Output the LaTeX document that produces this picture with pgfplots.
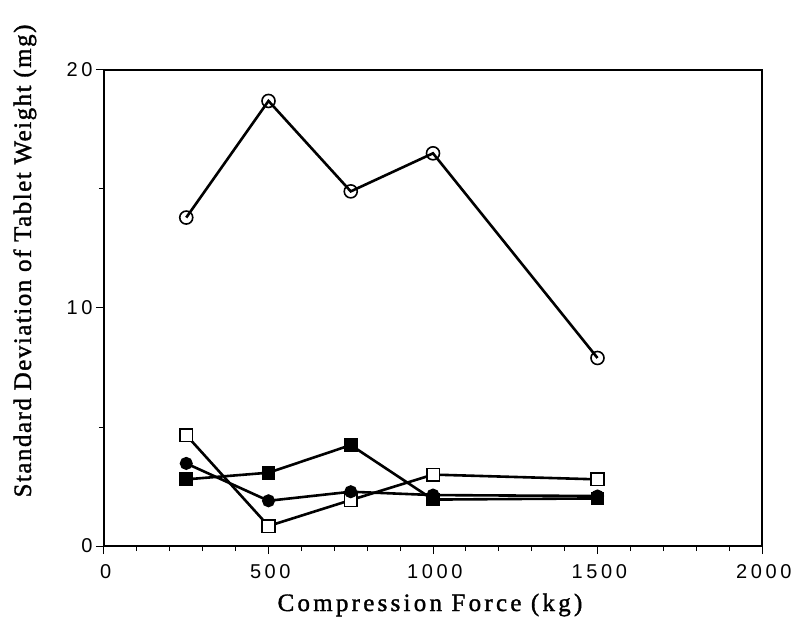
\documentclass[border=0pt]{standalone}
\usepackage{fontspec}
\setmainfont{Liberation Serif}
\newfontfamily\tickfont{Liberation Sans}[LetterSpace=18]
\newfontfamily\xlabfont{Liberation Serif}[LetterSpace=13, FakeBold=1.4]
\newfontfamily\ylabfont{Liberation Serif}[LetterSpace=6, FakeBold=1.4]
\usepackage{pgfplots}
\pgfplotsset{compat=1.18}
\begin{document}
\begin{tikzpicture}
\path[use as bounding box] (-104pt,-72pt) rectangle (687pt,546pt);
\begin{axis}[
  scale only axis,
  width=658pt, height=476pt,
  xmin=0, xmax=2000, ymin=0, ymax=20,
  xtick={0,500,1000,1500,2000},
  ytick={0,10,20},
  minor x tick num=4,
  minor y tick num=1,
  tick pos=left,
  tick align=outside,
  major tick length=8pt,
  minor tick length=5pt,
  axis line style={line width=1.5pt},
  every tick/.style={black, line width=1pt},
  /pgf/number format/assume math mode=true,
  /pgf/number format/set thousands separator={},
  tick label style={font=\tickfont\fontsize{20}{24}\selectfont},
  xticklabel style={yshift=-7pt, xshift=1.8pt},
  xlabel={\xlabfont\fontsize{25}{28}\selectfont Compression Force (kg)},
  ylabel={\ylabfont\fontsize{25}{28}\selectfont Standard Deviation of Tablet Weight (mg)},
  xlabel style={at={(axis description cs:0.4954,0)}, anchor=base, yshift=-65pt},
  ylabel style={at={(axis description cs:-0.111,0.5987)}, anchor=base},
  every axis plot/.append style={line width=2.6pt, black},
]
% open circles
\addplot[mark=o, mark size=6.5pt, mark options={fill=white, line width=1.6pt}] coordinates {
 (250,13.8) (500,18.7) (750,14.9) (1000,16.5) (1500,7.9)};
% open squares
\addplot[mark=square*, mark size=6.3pt, mark options={fill=white, line width=1.6pt}] coordinates {
 (250,4.66) (500,0.84) (750,1.93) (1000,3.0) (1500,2.8)};
% filled squares
\addplot[mark=square*, mark size=5.6pt, mark options={fill=black}] coordinates {
 (250,2.8) (500,3.08) (750,4.24) (1000,1.95) (1500,2.0)};
% filled circles
\addplot[mark=*, mark size=5.2pt, mark options={fill=black}] coordinates {
 (250,3.47) (500,1.9) (750,2.28) (1000,2.14) (1500,2.1)};
\end{axis}
\end{tikzpicture}
\end{document}
